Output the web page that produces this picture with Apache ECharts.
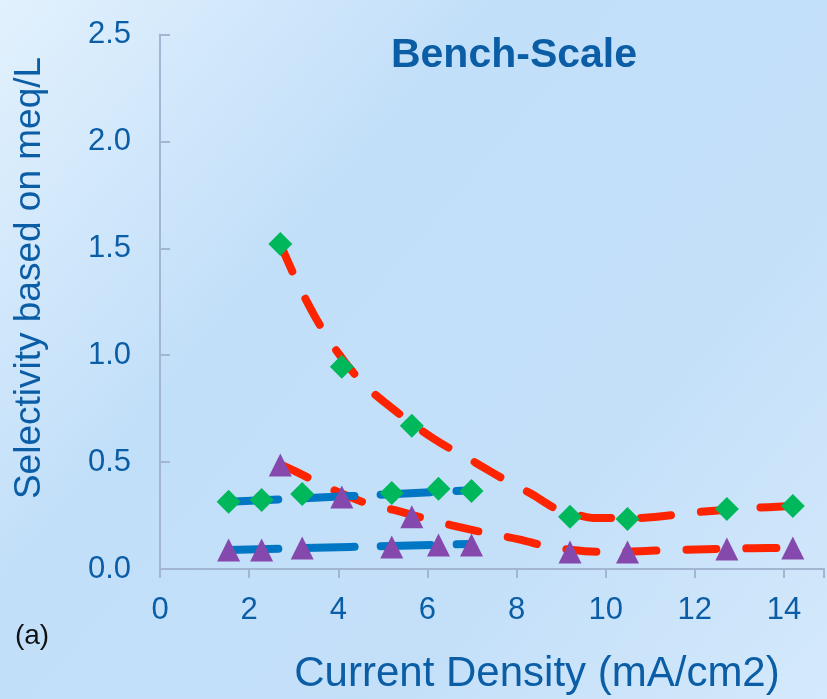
<!DOCTYPE html>
<html>
<head>
<meta charset="utf-8">
<title>Bench-Scale</title>
<script src="https://cdn.jsdelivr.net/npm/echarts@6/dist/echarts.min.js"></script>
<style>
  html, body { margin: 0; padding: 0; }
  #chart { width: 827px; height: 699px; }
</style>
</head>
<body>
<div id="chart"></div>
<script>
// x positions (current density, mA/cm2)
const redX = [2.7, 4.08, 5.65, 9.2, 10.49, 12.72, 14.2]
const blueX = [1.54, 2.28, 3.19, 5.2, 6.25, 6.99]

// selectivity values
const redDiamond = [1.52, 0.946, 0.67, 0.244, 0.234, 0.281, 0.295]
const redTriangle = [0.487, 0.337, 0.244, 0.08, 0.08, 0.094, 0.098]
const blueDiamond = [0.314, 0.323, 0.351, 0.356, 0.375, 0.365]
const blueTriangle = [0.089, 0.089, 0.098, 0.103, 0.112, 0.112]

// trend lines
const redHighTrendX = [2.7, 3.2, 3.8, 4.5, 5.1, 6.1, 7.1, 7.8, 8.3, 8.9, 9.2, 9.8, 10.5, 11.1, 12, 13.3, 14.2]
const redHighTrendY = [1.52, 1.29, 1.07, 0.88, 0.77, 0.615, 0.495, 0.41, 0.355, 0.28, 0.262, 0.238, 0.238, 0.243, 0.265, 0.285, 0.295]
const redLowTrendX = [2.7, 3.2, 3.8, 4.6, 5.25, 6.2, 6.85, 7.45, 8.05, 8.65, 9.2, 9.8, 10.5, 11.1, 11.7, 13.3, 14.2]
const redLowTrendY = [0.49, 0.44, 0.378, 0.31, 0.276, 0.222, 0.19, 0.163, 0.139, 0.108, 0.09, 0.081, 0.082, 0.086, 0.09, 0.097, 0.098]
const blueHighTrendX = [1.54, 6.99]
const blueHighTrendY = [0.314, 0.368]
const blueLowTrendX = [1.54, 6.99]
const blueLowTrendY = [0.089, 0.117]

const xTicks = [0, 2, 4, 6, 8, 10, 12, 14]

const zip = (xs, ys) => xs.map((x, i) => [x, ys[i]])

const textColor = '#0B5EA6'
const font = "'Liberation Sans', Arial, sans-serif"

const chart = echarts.init(document.getElementById('chart'))

const trend = (name, data, color, dash) => ({
  name,
  type: 'line',
  data,
  smooth: 0.35,
  showSymbol: false,
  silent: true,
  z: 2,
  lineStyle: { color, width: 8, type: dash, cap: 'round', join: 'round' }
})

const marks = (name, data, symbol, color, size) => ({
  name,
  type: 'scatter',
  data,
  symbol,
  symbolSize: size,
  z: 5,
  itemStyle: { color, opacity: 1 }
})

chart.setOption({
  backgroundColor: new echarts.graphic.LinearGradient(0, 0, 1, 1, [
    { offset: 0, color: '#E2F1FD' },
    { offset: 0.35, color: '#C2DFF9' },
    { offset: 0.7, color: '#C4E0F9' },
    { offset: 1, color: '#D4E9FB' }
  ]),
  animation: false,
  textStyle: { fontFamily: font },
  grid: { left: 160, right: 0, top: 34.5, bottom: 130 },
  xAxis: {
    type: 'value',
    min: 0,
    max: 14.9,
    interval: 2,
    axisLine: { show: true, lineStyle: { color: '#A2B6D2', width: 2 } },
    axisTick: { show: true, length: 9, lineStyle: { color: '#A2B6D2', width: 2 } },
    splitLine: { show: false },
    axisLabel: {
      color: textColor,
      fontSize: 31,
      margin: 26,
      formatter: v => (xTicks.includes(v) ? String(v) : '')
    }
  },
  yAxis: {
    type: 'value',
    min: 0,
    max: 2.5,
    interval: 0.5,
    axisLine: { show: true, lineStyle: { color: '#A2B6D2', width: 2 } },
    axisTick: { show: true, inside: true, length: 10, lineStyle: { color: '#A2B6D2', width: 2 } },
    splitLine: { show: false },
    axisLabel: {
      color: textColor,
      fontSize: 31,
      margin: 29,
      padding: [8, 0, 0, 0],
      formatter: v => v.toFixed(1)
    }
  },
  graphic: [
    {
      type: 'text', x: 514, y: 56,
      style: { text: 'Bench-Scale', fill: textColor, font: 'bold 41px ' + font, align: 'center', verticalAlign: 'middle' }
    },
    {
      type: 'text', x: 30, y: 278, rotation: Math.PI / 2,
      style: { text: 'Selectivity based on meq/L', fill: textColor, font: '37px ' + font, align: 'center', verticalAlign: 'middle' }
    },
    {
      type: 'text', x: 537, y: 674,
      style: { text: 'Current Density (mA/cm2)', fill: textColor, font: '42px ' + font, align: 'center', verticalAlign: 'middle' }
    },
    {
      type: 'text', x: 32, y: 636,
      style: { text: '(a)', fill: '#111', font: '28px ' + font, align: 'center', verticalAlign: 'middle' }
    }
  ],
  series: [
    trend('red high trend', zip(redHighTrendX, redHighTrendY), '#FF2400', [30, 30]),
    trend('red low trend', zip(redLowTrendX, redLowTrendY), '#FF2400', [30, 30]),
    trend('blue high trend', zip(blueHighTrendX, blueHighTrendY), '#0077C4', [50, 26]),
    trend('blue low trend', zip(blueLowTrendX, blueLowTrendY), '#0077C4', [50, 26]),
    marks('red diamonds', zip(redX, redDiamond), 'diamond', '#00B85C', 24),
    marks('red triangles', zip(redX, redTriangle), 'triangle', '#8549AE', 23),
    marks('blue diamonds', zip(blueX, blueDiamond), 'diamond', '#00B85C', 24),
    marks('blue triangles', zip(blueX, blueTriangle), 'triangle', '#8549AE', 23)
  ]
})
</script>
</body>
</html>
